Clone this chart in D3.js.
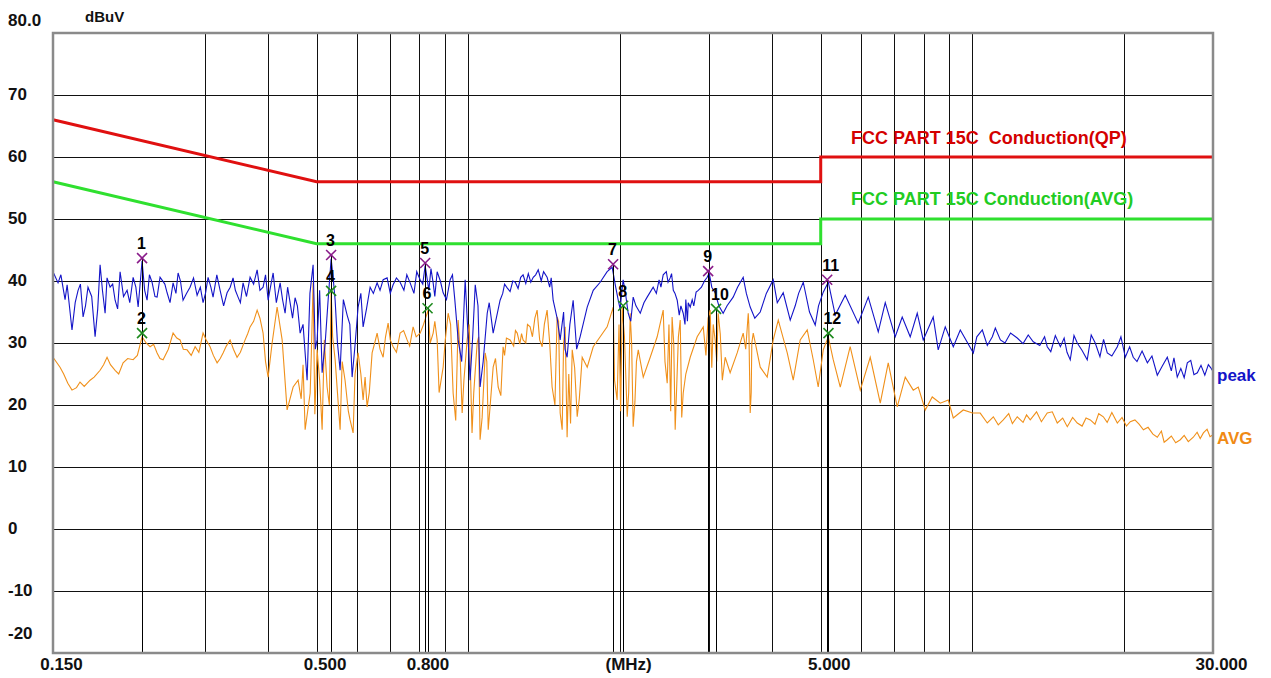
<!DOCTYPE html>
<html><head><meta charset="utf-8">
<script src="https://cdn.jsdelivr.net/npm/d3@7"></script>
<style>
html,body{margin:0;padding:0;background:#fff;}
svg{display:block;}
text{font-family:"Liberation Sans",Arial,sans-serif;font-weight:bold;}
</style></head><body>
<svg id="chart" width="1271" height="678"></svg>
<script>
// ---------- data ----------
const xTickValues = [0.15, 0.5, 0.8, 2, 5, 30];
const xTickLabels = ["0.150", "0.500", "0.800", "(MHz)", "5.000", "30.000"];
const yTickValues = [80, 70, 60, 50, 40, 30, 20, 10, 0, -10, -20];
const yTickLabels = ["80.0", "70", "60", "50", "40", "30", "20", "10", "0", "-10", "-20"];
const xGridValues = [0.3, 0.4, 0.5, 0.6, 0.7, 0.8, 0.9, 1, 2, 3, 4, 5, 6, 7, 8, 9, 10, 20];
const yGridValues = [70, 60, 50, 40, 30, 20, 10, 0, -10];

const qpLimitFreq = [0.15, 0.5, 5, 5, 30];
const qpLimitLevel = [66, 56, 56, 60, 60];
const avgLimitFreq = [0.15, 0.5, 5, 5, 30];
const avgLimitLevel = [56, 46, 46, 50, 50];
const limitNames = ["FCC PART 15C  Conduction(QP)", "FCC PART 15C Conduction(AVG)"];

// peak detector trace [MHz, dBuV]
const peakTrace = [[0.150,41.5],[0.1535,39.7],[0.1555,41.0],[0.1585,37.0],[0.160,39.4],[0.1636,32.1],[0.166,36.5],[0.1682,38.5],[0.170,39.5],[0.1721,34.2],[0.174,36.0],[0.176,39.0],[0.179,37.5],[0.1818,31.0],[0.184,35.5],[0.186,42.6],[0.188,38.5],[0.1903,34.8],[0.192,40.5],[0.1947,39.0],[0.197,39.5],[0.1992,36.9],[0.2015,35.5],[0.2038,41.5],[0.207,37.5],[0.2104,38.5],[0.213,36.5],[0.2163,40.6],[0.219,39.0],[0.2213,35.8],[0.2253,43.2],[0.228,38.5],[0.2305,36.9],[0.233,41.0],[0.2358,39.8],[0.239,37.5],[0.2413,37.4],[0.2446,40.6],[0.250,39.5],[0.2526,38.1],[0.256,36.5],[0.2596,39.7],[0.263,38.0],[0.2656,41.3],[0.2685,40.0],[0.2717,36.9],[0.276,38.0],[0.2805,39.0],[0.285,40.5],[0.2897,37.7],[0.294,39.0],[0.2977,36.5],[0.301,38.0],[0.3046,40.6],[0.3085,39.0],[0.3116,37.4],[0.317,41.0],[0.3218,38.5],[0.327,36.0],[0.3322,38.1],[0.337,39.0],[0.3414,40.5],[0.345,38.5],[0.3493,37.4],[0.353,36.5],[0.3574,39.7],[0.363,37.5],[0.369,40.6],[0.375,39.5],[0.3811,41.8],[0.386,38.5],[0.3916,39.0],[0.396,41.0],[0.4007,36.9],[0.405,39.0],[0.41,41.3],[0.416,36.5],[0.4233,39.7],[0.428,37.0],[0.433,34.8],[0.438,39.0],[0.443,36.5],[0.448,34.0],[0.4532,37.3],[0.458,36.0],[0.4638,31.6],[0.470,33.0],[0.4788,24.0],[0.485,38.0],[0.4921,42.6],[0.497,29.0],[0.5012,30.5],[0.507,38.5],[0.5128,25.2],[0.520,30.0],[0.527,36.9],[0.5343,43.6],[0.540,40.0],[0.5442,36.9],[0.550,30.0],[0.5567,25.6],[0.565,37.0],[0.5748,34.5],[0.582,33.0],[0.5881,24.5],[0.595,29.0],[0.6044,35.8],[0.612,38.0],[0.6184,32.6],[0.628,35.5],[0.6385,39.0],[0.648,38.0],[0.6592,39.7],[0.668,38.5],[0.6776,40.2],[0.690,40.5],[0.700,38.0],[0.7092,39.4],[0.720,40.5],[0.7322,39.8],[0.745,38.5],[0.755,41.0],[0.7665,39.7],[0.780,38.0],[0.790,41.5],[0.8024,40.2],[0.812,39.5],[0.8209,42.5],[0.835,38.5],[0.843,42.0],[0.8515,39.7],[0.858,37.5],[0.8672,41.5],[0.880,40.0],[0.8913,38.1],[0.905,37.0],[0.9203,40.2],[0.930,41.0],[0.940,37.0],[0.9546,30.5],[0.970,27.0],[0.9856,40.2],[0.996,33.0],[1.008,24.0],[1.02,31.0],[1.032,39.4],[1.045,36.0],[1.055,22.9],[1.07,27.0],[1.090,34.8],[1.10,36.5],[1.120,31.6],[1.156,36.9],[1.17,38.0],[1.18,39.5],[1.194,38.9],[1.21,38.3],[1.225,40.0],[1.239,39.8],[1.255,38.8],[1.27,40.6],[1.284,41.0],[1.30,39.6],[1.315,41.2],[1.33,39.8],[1.345,40.6],[1.36,41.0],[1.376,41.8],[1.395,40.0],[1.41,41.5],[1.433,40.6],[1.45,39.0],[1.46,40.5],[1.473,36.9],[1.50,34.0],[1.521,30.5],[1.545,35.0],[1.555,29.0],[1.570,27.7],[1.59,33.0],[1.614,36.9],[1.64,29.0],[1.666,31.0],[1.721,35.8],[1.769,38.5],[1.826,39.8],[1.885,41.5],[1.929,42.2],[1.96,39.0],[1.983,36.9],[2.00,35.5],[2.028,40.2],[2.05,38.0],[2.075,34.8],[2.10,33.5],[2.123,37.4],[2.15,36.0],[2.193,34.8],[2.23,36.5],[2.263,37.4],[2.326,39.0],[2.36,38.0],[2.39,40.2],[2.41,39.0],[2.435,41.0],[2.47,41.5],[2.49,39.8],[2.514,40.5],[2.53,41.2],[2.55,38.5],[2.57,38.0],[2.596,36.9],[2.62,34.5],[2.64,36.0],[2.668,34.8],[2.69,33.0],[2.70,37.0],[2.72,33.5],[2.73,36.5],[2.755,35.8],[2.78,37.0],[2.80,36.0],[2.83,38.2],[2.858,38.5],[2.90,39.0],[2.94,40.0],[2.977,40.6],[3.004,41.3],[3.04,39.0],[3.087,38.1],[3.14,36.0],[3.202,34.8],[3.26,36.0],[3.352,37.4],[3.42,39.0],[3.509,40.6],[3.56,38.0],[3.623,35.8],[3.70,34.0],[3.793,35.0],[3.90,38.0],[4.025,40.2],[4.10,36.5],[4.213,38.1],[4.350,33.7],[4.45,36.0],[4.52,38.0],[4.617,39.8],[4.75,35.0],[4.876,32.9],[4.95,36.0],[5.058,38.2],[5.176,39.8],[5.343,34.5],[5.593,37.7],[5.934,33.2],[6.213,37.4],[6.503,31.8],[6.714,36.5],[7.027,31.0],[7.255,34.2],[7.525,31.0],[7.770,34.8],[7.986,30.5],[8.358,34.2],[8.551,28.9],[8.831,32.6],[9.161,29.4],[9.458,32.1],[10.04,28.4],[10.2,31.0],[10.46,32.1],[10.7,29.6],[10.95,31.0],[11.1,32.4],[11.36,30.5],[11.6,30.0],[11.9,31.6],[12.27,30.8],[12.6,29.9],[12.9,31.3],[13.20,30.2],[13.6,29.6],[13.9,31.0],[14.07,29.4],[14.3,28.6],[14.6,31.2],[14.94,29.4],[15.2,30.8],[15.4,28.5],[15.63,27.3],[15.9,31.2],[16.14,30.0],[16.5,28.8],[16.89,27.3],[17.2,31.3],[17.52,30.0],[17.9,27.8],[18.2,30.6],[18.51,28.4],[18.9,27.9],[19.38,29.4],[19.7,31.0],[20.10,27.7],[20.5,29.4],[20.84,27.7],[21.2,27.0],[21.7,28.7],[22.23,26.8],[22.7,27.9],[23.26,24.8],[23.8,26.3],[24.35,27.7],[24.8,25.5],[25.1,27.6],[25.48,24.5],[25.9,25.9],[26.3,24.4],[26.68,26.8],[27.1,27.2],[27.5,24.9],[27.93,25.2],[28.4,26.4],[28.9,24.8],[29.37,26.5],[29.7,26.0],[30.0,25.4]];

// average detector trace [MHz, dBuV]
const avgTrace = [[0.150,27.7],[0.1549,26.1],[0.1575,25.0],[0.1605,23.5],[0.1636,22.4],[0.167,22.8],[0.1697,23.7],[0.173,23.0],[0.1777,24.0],[0.181,24.5],[0.186,25.6],[0.189,26.5],[0.192,27.7],[0.195,26.5],[0.1992,25.6],[0.2025,25.0],[0.2066,26.8],[0.211,27.5],[0.2163,27.3],[0.2205,28.0],[0.2253,31.0],[0.2295,30.0],[0.2337,29.4],[0.2375,29.8],[0.2413,28.4],[0.2445,27.5],[0.248,27.3],[0.254,29.0],[0.2596,31.6],[0.264,30.8],[0.268,30.5],[0.272,29.0],[0.2767,28.9],[0.282,28.0],[0.2871,29.4],[0.292,28.5],[0.2977,31.6],[0.302,30.5],[0.3074,29.4],[0.312,28.0],[0.3174,26.8],[0.322,27.5],[0.3262,28.4],[0.331,29.5],[0.3368,30.5],[0.342,29.0],[0.3477,27.7],[0.353,28.5],[0.3607,30.5],[0.365,31.5],[0.369,32.6],[0.375,33.5],[0.3811,35.3],[0.386,34.0],[0.3916,31.6],[0.396,27.0],[0.4007,24.5],[0.4081,30.0],[0.4175,35.8],[0.4272,30.5],[0.437,19.2],[0.4492,22.9],[0.4595,24.0],[0.466,21.0],[0.470,26.5],[0.4745,16.0],[0.480,19.0],[0.4855,21.9],[0.488,28.0],[0.4921,39.7],[0.496,18.5],[0.5012,28.9],[0.507,24.0],[0.5128,16.0],[0.518,30.5],[0.5246,22.9],[0.530,20.0],[0.5343,38.4],[0.538,31.0],[0.5442,27.3],[0.550,22.0],[0.5567,16.0],[0.562,27.0],[0.5694,24.0],[0.578,19.0],[0.5826,17.6],[0.5908,15.5],[0.596,25.0],[0.6044,28.4],[0.612,25.0],[0.6184,20.8],[0.624,24.5],[0.6298,19.7],[0.636,22.0],[0.6443,28.4],[0.652,30.0],[0.6592,31.6],[0.668,29.0],[0.6776,27.7],[0.685,31.0],[0.6932,33.2],[0.700,30.5],[0.7092,29.4],[0.720,28.5],[0.7322,31.6],[0.744,32.0],[0.756,30.5],[0.765,29.5],[0.777,32.6],[0.788,31.0],[0.8024,31.6],[0.815,33.0],[0.8321,35.3],[0.840,30.0],[0.8515,31.6],[0.858,33.5],[0.8672,30.5],[0.875,22.0],[0.8913,26.1],[0.900,30.5],[0.9119,34.8],[0.922,33.0],[0.9329,21.9],[0.944,17.5],[0.9546,33.7],[0.962,29.0],[0.9721,18.7],[0.980,24.0],[0.9945,30.5],[1.004,33.0],[1.017,15.5],[1.025,22.0],[1.041,30.0],[1.048,31.0],[1.055,14.4],[1.065,18.0],[1.080,28.4],[1.088,27.0],[1.095,16.0],[1.105,20.0],[1.120,26.1],[1.132,27.5],[1.146,22.9],[1.160,21.5],[1.172,29.4],[1.18,28.0],[1.19,30.8],[1.210,30.5],[1.23,29.5],[1.24,32.0],[1.250,31.6],[1.265,29.8],[1.275,31.5],[1.284,30.5],[1.30,30.0],[1.31,33.0],[1.326,32.6],[1.34,31.0],[1.355,34.0],[1.369,35.3],[1.385,30.5],[1.401,29.4],[1.415,33.0],[1.433,35.3],[1.450,30.0],[1.466,22.9],[1.485,20.0],[1.500,34.2],[1.510,33.5],[1.521,18.7],[1.535,16.0],[1.545,30.0],[1.556,32.6],[1.570,14.8],[1.582,25.0],[1.595,17.0],[1.607,28.9],[1.625,26.0],[1.644,18.1],[1.660,21.0],[1.682,27.7],[1.721,26.1],[1.769,29.4],[1.826,31.0],[1.885,32.6],[1.938,35.8],[1.950,24.0],[1.973,20.8],[1.990,33.0],[2.005,19.0],[2.019,35.8],[2.040,31.0],[2.066,18.1],[2.080,22.0],[2.094,34.8],[2.108,30.0],[2.123,16.5],[2.140,20.5],[2.155,27.0],[2.173,28.9],[2.223,24.5],[2.295,27.7],[2.369,31.0],[2.435,35.3],[2.455,27.0],[2.480,23.5],[2.500,33.0],[2.520,19.0],[2.536,34.2],[2.555,30.0],[2.572,16.0],[2.590,23.0],[2.610,31.0],[2.632,33.7],[2.650,18.0],[2.668,21.9],[2.700,25.0],[2.755,27.7],[2.844,31.0],[2.924,32.6],[2.960,28.0],[2.990,34.0],[3.018,35.3],[3.040,26.0],[3.060,33.0],[3.087,30.5],[3.110,27.0],[3.130,34.8],[3.160,31.5],[3.190,24.0],[3.232,27.7],[3.306,25.2],[3.414,28.4],[3.509,31.6],[3.550,29.0],[3.591,34.8],[3.600,33.0],[3.623,18.7],[3.640,22.0],[3.650,30.0],[3.674,31.6],[3.793,26.1],[3.916,24.5],[4.025,30.5],[4.119,33.7],[4.291,28.4],[4.410,24.0],[4.553,30.5],[4.701,32.1],[4.832,27.3],[4.943,22.9],[5.058,28.9],[5.176,31.0],[5.294,27.3],[5.467,22.9],[5.720,29.4],[5.990,22.4],[6.269,27.7],[6.563,20.3],[6.806,26.8],[7.092,19.7],[7.356,24.5],[7.630,22.4],[7.806,22.9],[8.060,19.2],[8.321,21.3],[8.632,20.3],[8.954,20.8],[9.161,17.9],[9.588,19.2],[10.0,18.7],[10.36,18.7],[10.70,17.1],[11.00,18.1],[11.25,16.8],[11.51,17.6],[11.8,18.6],[12.0,17.0],[12.27,18.1],[12.6,17.2],[12.8,18.4],[13.02,17.6],[13.4,18.9],[13.7,17.3],[14.07,18.7],[14.4,18.9],[14.73,17.1],[15.1,17.9],[15.42,16.5],[15.8,18.0],[16.14,17.1],[16.5,16.6],[16.8,17.9],[17.13,17.6],[17.5,16.9],[17.8,18.6],[18.18,18.1],[18.5,17.2],[18.9,18.8],[19.38,17.1],[19.8,18.0],[20.2,16.6],[20.56,17.3],[21.0,17.6],[21.4,16.9],[21.83,16.0],[22.3,16.4],[22.8,15.3],[23.26,14.8],[23.7,15.8],[24.0,14.0],[24.35,14.4],[24.8,15.0],[25.3,13.9],[25.84,14.4],[26.3,15.1],[26.8,14.1],[27.42,14.8],[27.9,15.6],[28.3,14.6],[28.71,15.5],[29.2,16.1],[29.6,14.9],[30.0,15.2]];

const markerNo = [1, 2, 3, 4, 5, 6, 7, 8, 9, 10, 11, 12];
const markerFreq = [0.2253, 0.2253, 0.5343, 0.5343, 0.821, 0.830, 1.937, 2.028, 2.99, 3.10, 5.15, 5.18];
const markerLevel = [43.7, 31.6, 44.2, 38.4, 42.9, 35.6, 42.7, 36.0, 41.6, 35.5, 40.2, 31.6];
const markerDetector = ["peak", "avg", "peak", "avg", "peak", "avg", "peak", "avg", "peak", "avg", "peak", "avg"];

// ---------- layout ----------
const svg = d3.select("#chart");
const L = 53, R = 1213, T = 33, B = 653;
const x = d3.scaleLog().domain([0.15, 30]).range([L, R]);
const y = d3.scaleLinear().domain([-20, 80]).range([B, T]);

svg.append("rect").attr("width", 1271).attr("height", 678).attr("fill", "#fff");

// grid
const grid = svg.append("g").attr("shape-rendering", "crispEdges");
grid.selectAll("line.v").data(xGridValues).join("line").attr("class", "v")
  .attr("x1", d => Math.round(x(d)) + 0.5).attr("x2", d => Math.round(x(d)) + 0.5)
  .attr("y1", T).attr("y2", B).attr("stroke", "#111").attr("stroke-width", 1.3);
grid.selectAll("line.h").data(yGridValues).join("line").attr("class", "h")
  .attr("x1", L).attr("x2", R)
  .attr("y1", d => Math.round(y(d)) + 0.5).attr("y2", d => Math.round(y(d)) + 0.5)
  .attr("stroke", "#111").attr("stroke-width", 1.3);

// limit lines
const limLine = d3.line().x(d => x(d[0])).y(d => y(d[1]));
svg.append("path").datum(qpLimitFreq.map((f, i) => [f, qpLimitLevel[i]]))
  .attr("d", limLine).attr("fill", "none").attr("stroke", "#e01010").attr("stroke-width", 3);
svg.append("path").datum(avgLimitFreq.map((f, i) => [f, avgLimitLevel[i]]))
  .attr("d", limLine).attr("fill", "none").attr("stroke", "#2fe02f").attr("stroke-width", 3);

svg.append("text").attr("x", 851).attr("y", 144).attr("fill", "#d40000")
  .style("font-size", "18px").style("white-space", "pre").text(limitNames[0]);
svg.append("text").attr("x", 851).attr("y", 205).attr("fill", "#22cc22")
  .style("font-size", "18px").style("white-space", "pre").text(limitNames[1]);

// traces
const byFreq = (a, b) => a[0] - b[0];
const tr = d3.line().x(d => x(d[0])).y(d => y(d[1]));
svg.append("path").datum(avgTrace.slice().sort(byFreq)).attr("d", tr).attr("fill", "none")
  .attr("stroke", "#f0901a").attr("stroke-width", 1.1);
svg.append("path").datum(peakTrace.slice().sort(byFreq)).attr("d", tr).attr("fill", "none")
  .attr("stroke", "#1414c8").attr("stroke-width", 1.1);

// trace labels
svg.append("text").attr("x", 1217).attr("y", 381).attr("fill", "#1414c8").style("font-size", "17px").text("peak");
svg.append("text").attr("x", 1217).attr("y", 444).attr("fill", "#f08a14").style("font-size", "17px").text("AVG");

// markers
const markers = markerNo.map((n, i) => ({n, f: markerFreq[i], v: markerLevel[i], det: markerDetector[i]}));
svg.append("g").attr("shape-rendering", "crispEdges").selectAll("line").data(markers).join("line")
  .attr("x1", d => Math.round(x(d.f)) + 0.5).attr("x2", d => Math.round(x(d.f)) + 0.5)
  .attr("y1", d => y(d.v)).attr("y2", B).attr("stroke", "#000").attr("stroke-width", 1.2);
const mk = svg.append("g").selectAll("g").data(markers).join("g")
  .attr("transform", d => `translate(${x(d.f)},${y(d.v)})`);
mk.append("path").attr("d", "M-5,-5L5,5M-5,5L5,-5").attr("fill", "none")
  .attr("stroke", d => d.det === "peak" ? "#8a1c8a" : "#1e8a1e").attr("stroke-width", 1.6);
mk.append("text").attr("x", -5).attr("y", -9).attr("fill", "#000").style("font-size", "16px").text(d => d.n);

// frame
svg.append("rect").attr("x", L).attr("y", T).attr("width", R - L).attr("height", B - T)
  .attr("fill", "none").attr("stroke", "#8a8a8a").attr("stroke-width", 2.5);

// axes
const xAxis = svg.append("g").attr("transform", `translate(0,${B})`)
  .call(d3.axisBottom(x).tickValues(xTickValues).tickFormat((d, i) => xTickLabels[i]).tickSize(0));
xAxis.select(".domain").remove();
xAxis.selectAll("text").attr("x", 8).attr("y", 17).attr("dy", 0)
  .style("font-size", "17px").style("font-family", "'Liberation Sans',Arial,sans-serif").attr("fill", "#111");

const yAxis = svg.append("g").attr("transform", `translate(0,0)`)
  .call(d3.axisLeft(y).tickValues(yTickValues).tickFormat((d, i) => yTickLabels[i]).tickSize(0));
yAxis.select(".domain").remove();
yAxis.selectAll("text").attr("text-anchor", "start").attr("x", 8)
  .attr("dy", d => d === 80 ? -8 : (d === -20 ? -15 : 4))
  .style("font-size", "17px").style("font-family", "'Liberation Sans',Arial,sans-serif").attr("fill", "#111");

svg.append("text").attr("x", 85).attr("y", 22).attr("fill", "#111").style("font-size", "15px").text("dBuV");
</script>
</body></html>
